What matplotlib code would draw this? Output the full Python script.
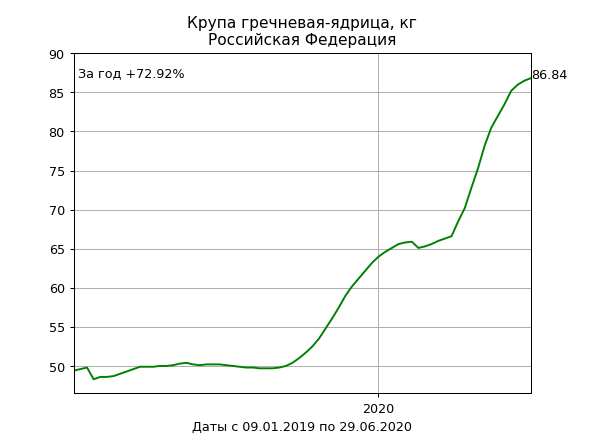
import matplotlib
matplotlib.use("Agg")
import matplotlib.pyplot as plt
import matplotlib.dates as mdates
import pandas as pd

values = [49.4, 49.6, 49.8, 48.3, 48.6, 48.6, 48.7, 49.0, 49.3, 49.6, 49.9, 49.9, 49.9, 50.0,
          50.0, 50.1, 50.3, 50.4, 50.2, 50.1, 50.2, 50.2, 50.2, 50.1, 50.0, 49.9, 49.8, 49.8,
          49.7, 49.7, 49.7, 49.8, 50.0, 50.4, 51.0, 51.7, 52.5, 53.5, 54.8, 56.1, 57.5, 59.0,
          60.2, 61.2, 62.2, 63.2, 64.0, 64.6, 65.1, 65.6, 65.8, 65.9, 65.1, 65.3, 65.6, 66.0,
          66.3, 66.6, 68.5, 70.2, 72.8, 75.3, 78.2, 80.5, 82.0, 83.5, 85.2, 86.0, 86.5, 86.84]
start, end = "2019-01-09", "2020-06-29"
dates = pd.date_range(start, end, periods=len(values))

fig, ax = plt.subplots(figsize=(6.4, 4.8), dpi=92.2)
ax.plot(dates, values, color="green")
ax.set_xlim(dates[0], dates[-1])
ax.set_ylim(46.5, 90.1)
ax.xaxis.set_major_locator(mdates.YearLocator())
ax.xaxis.set_major_formatter(mdates.DateFormatter("%Y"))
ax.grid(True)
ax.set_title("Крупа гречневая-ядрица, кг\nРоссийская Федерация")
ax.set_xlabel("Даты с 09.01.2019 по 29.06.2020")
ax.text(0.01, 0.96, "За год +72.92%", transform=ax.transAxes, va="top")
ax.text(dates[-1], values[-1], f"{values[-1]:.2f}")
fig.savefig("out.png")
